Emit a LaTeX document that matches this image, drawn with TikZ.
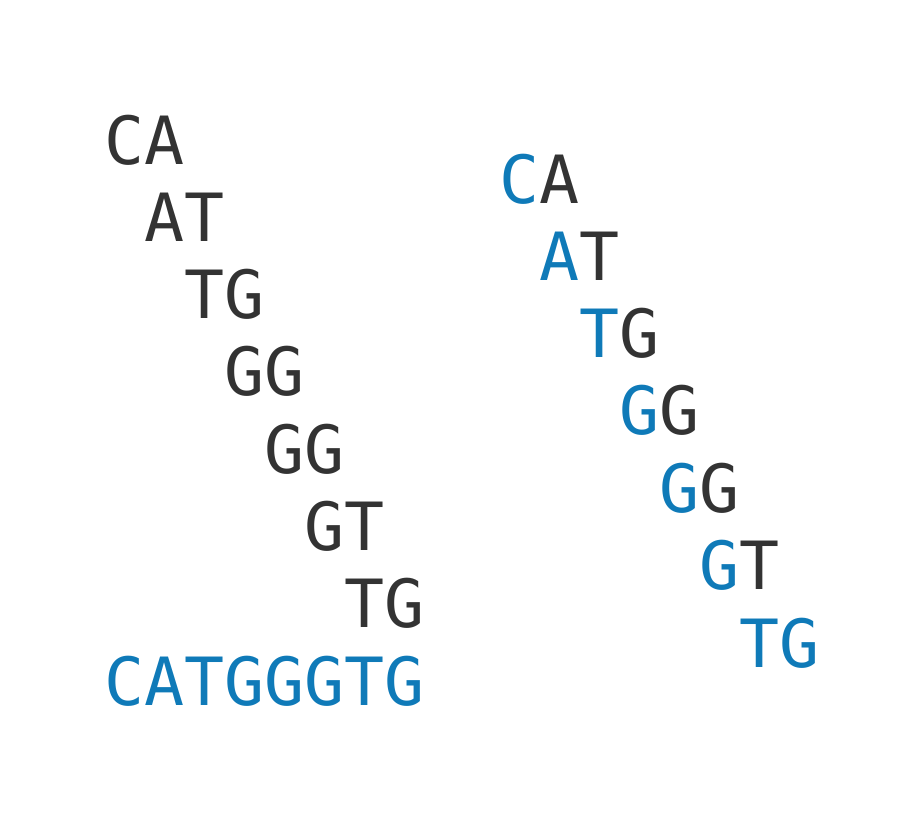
\documentclass[tikz,border=0pt]{standalone}
\usepackage{fontspec}
\setmonofont{DejaVu Sans Mono}
\definecolor{dk}{HTML}{333333}
\definecolor{bl}{HTML}{0F7AB8}
\tikzset{seq/.style={anchor=base west,inner sep=0pt,outer sep=0pt,text=dk,font=\ttfamily\fontsize{66.5}{80}\selectfont}}
\newcommand{\B}[1]{\textcolor{bl}{#1}}
\begin{document}
\begin{tikzpicture}[x=1pt,y=-1pt]
\useasboundingbox (0,0) rectangle (900,825);
\node[seq] (l1) at (104,164) {CA};
\node[seq] (l2) at (144,241.3) {AT};
\node[seq] (l3) at (184,318.6) {TG};
\node[seq] (l4) at (224,395.9) {GG};
\node[seq] (l5) at (264,473.2) {GG};
\node[seq] (l6) at (304,550.5) {GT};
\node[seq] (l7) at (344,627.8) {TG};
\node[seq,text=bl] (l8) at (104,705) {CATGGGTG};
\node[seq] (r1) at (499,203) {\B{C}A};
\node[seq] (r2) at (539,280.3) {\B{A}T};
\node[seq] (r3) at (579,357.6) {\B{T}G};
\node[seq] (r4) at (619,434.9) {\B{G}G};
\node[seq] (r5) at (659,512.2) {\B{G}G};
\node[seq] (r6) at (699,589.5) {\B{G}T};
\node[seq,text=bl] (r7) at (739,667) {TG};
\end{tikzpicture}
\end{document}
